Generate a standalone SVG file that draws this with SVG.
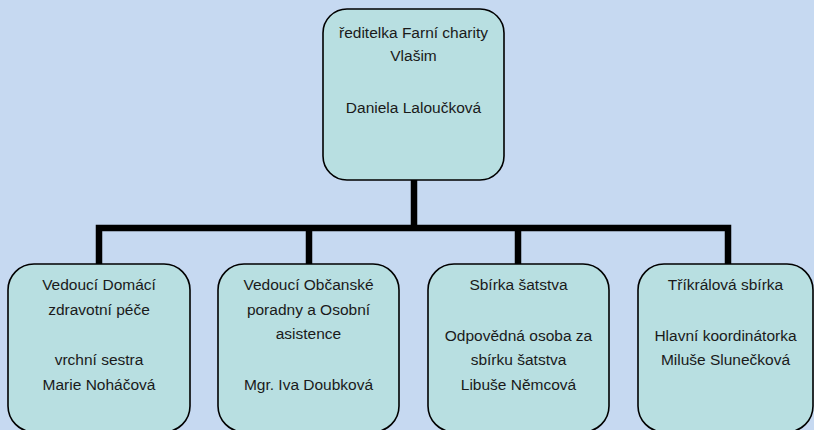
<svg xmlns="http://www.w3.org/2000/svg" width="814" height="430" viewBox="0 0 814 430">
<style>
.box{fill:#b8dfe1;stroke:#000;stroke-width:1.6}
.t{font-family:"Liberation Sans",Arial,sans-serif;font-size:15.5px;fill:#1a1a1a;text-anchor:middle}
.c{fill:none;stroke:#000;stroke-width:6.5;stroke-linejoin:miter}
</style>
<rect x="0" y="0" width="814" height="430" fill="#c6d9f1"/>
<g id="connectors">
<path class="c" d="M414 180 V228"/>
<path class="c" d="M99 264 V228 H728 V264"/>
<path class="c" d="M309 228 V264"/>
<path class="c" d="M518 228 V264"/>
</g>
<g id="n0">
<rect class="box" x="323" y="9" width="181" height="171" rx="24"/>
<text class="t" x="413.5" y="38">ředitelka Farní charity</text>
<text class="t" x="413.5" y="61">Vlašim</text>
<text class="t" x="413.5" y="113">Daniela Laloučková</text>
</g>
<g id="n1">
<rect class="box" x="8" y="264" width="182" height="168" rx="26"/>
<text class="t" x="99" y="290">Vedoucí Domácí</text>
<text class="t" x="99" y="315">zdravotní péče</text>
<text class="t" x="99" y="365">vrchní sestra</text>
<text class="t" x="99" y="390">Marie Noháčová</text>
</g>
<g id="n2">
<rect class="box" x="218" y="264" width="181" height="168" rx="26"/>
<text class="t" x="308.5" y="290">Vedoucí Občanské</text>
<text class="t" x="308.5" y="315">poradny a Osobní</text>
<text class="t" x="308.5" y="339">asistence</text>
<text class="t" x="308.5" y="390">Mgr. Iva Doubková</text>
</g>
<g id="n3">
<rect class="box" x="428" y="264" width="181" height="168" rx="26"/>
<text class="t" x="518.5" y="290">Sbírka šatstva</text>
<text class="t" x="518.5" y="341">Odpovědná osoba za</text>
<text class="t" x="518.5" y="365">sbírku šatstva</text>
<text class="t" x="518.5" y="390">Libuše Němcová</text>
</g>
<g id="n4">
<rect class="box" x="638" y="264" width="175" height="168" rx="26"/>
<text class="t" x="725.5" y="290">Tříkrálová sbírka</text>
<text class="t" x="725.5" y="341">Hlavní koordinátorka</text>
<text class="t" x="725.5" y="365">Miluše Slunečková</text>
</g>
</svg>
